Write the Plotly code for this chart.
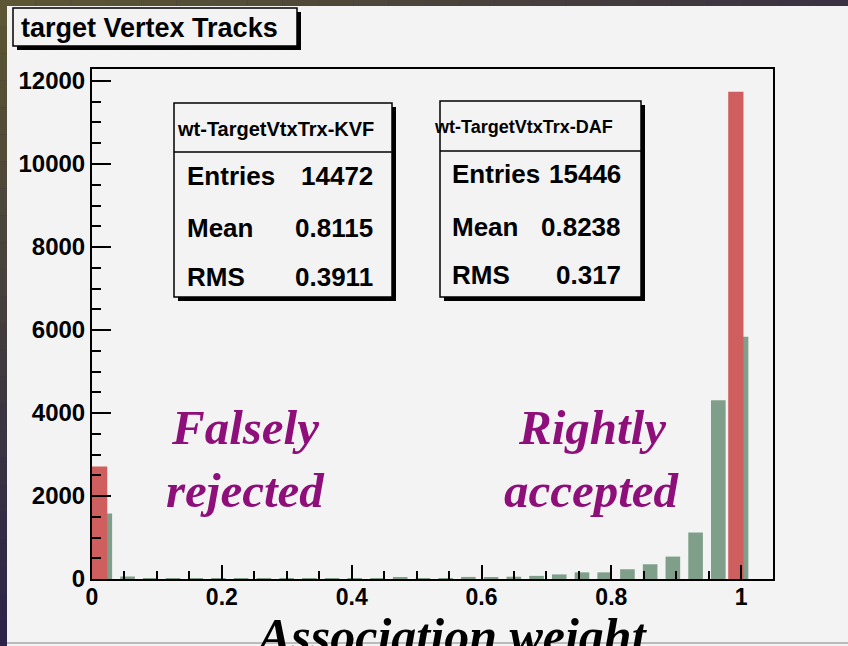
import plotly.graph_objects as go

# ---------------- data ----------------
bin_low = [0.000, 0.035, 0.070, 0.105, 0.140, 0.175, 0.210, 0.245, 0.280, 0.315,
           0.350, 0.385, 0.420, 0.455, 0.490, 0.525, 0.560, 0.595, 0.630, 0.665,
           0.700, 0.735, 0.770, 0.805, 0.840, 0.875, 0.910, 0.945, 0.980, 1.015]
kvf_counts = [2710, 0, 0, 0, 0, 0, 0, 0, 0, 0,
              0, 0, 0, 0, 0, 0, 0, 0, 0, 0,
              0, 0, 0, 0, 0, 0, 0, 0, 11740, 0]
daf_counts = [1580, 60, 15, 12, 12, 12, 12, 12, 12, 15,
              15, 15, 18, 40, 18, 20, 50, 40, 55, 75,
              110, 160, 160, 235, 355, 540, 1120, 4310, 5840, 0]
x_ticks = [0, 0.2, 0.4, 0.6, 0.8, 1]
x_tick_text = ["0", "0.2", "0.4", "0.6", "0.8", "1"]
y_ticks = [0, 2000, 4000, 6000, 8000, 10000, 12000]
y_tick_text = ["0", "2000", "4000", "6000", "8000", "10000", "12000"]

title_text = "target Vertex Tracks"
kvf_name = "wt-TargetVtxTrx-KVF"
daf_name = "wt-TargetVtxTrx-DAF"
kvf_stats = [("Entries", "14472"), ("Mean", "0.8115"), ("RMS", "0.3911")]
daf_stats = [("Entries", "15446"), ("Mean", "0.8238"), ("RMS", "0.317")]
x_title = "Association weight"

# ---------------- layout geometry (pixels) ----------------
W_FIG, H_FIG = 848, 646
L, R, T, B = 92, 773, 69, 579
PW, PH = R - L, B - T


def px(xp):
    return (xp - L) / PW


def py(yp):
    return (B - yp) / PH


RED = "#cf5f5f"
GREEN = "#7f9f8b"
CANVAS = "#f3f3f3"
PURPLE = "#8e0f7a"
SANS = "Liberation Sans, Arial, sans-serif"
SERIF = "Liberation Serif, Times New Roman, serif"

fig = go.Figure()
fig.add_bar(x=bin_low, y=daf_counts, offset=0.0085, width=0.0225,
            marker=dict(color=GREEN, line=dict(width=0)), opacity=1, name=daf_name)
fig.add_bar(x=bin_low, y=kvf_counts, offset=0.0, width=0.0235,
            marker=dict(color=RED, line=dict(width=0)), opacity=1, name=kvf_name)

shapes = []
annotations = []


def lerp(c1, c2, t):
    return "rgb(%d,%d,%d)" % tuple(int(a + (b - a) * t) for a, b in zip(c1, c2))


olive = (92, 86, 52)
purple_dark = (44, 36, 72)
top_right = (58, 50, 66)
n = 24
for i in range(n):
    y0 = i * H_FIG / n
    y1 = (i + 1) * H_FIG / n
    shapes.append(dict(type="rect", xref="paper", yref="paper", layer="below",
                       x0=px(0), x1=px(8), y0=py(y0), y1=py(y1),
                       fillcolor=lerp(olive, purple_dark, i / (n - 1)), line=dict(width=0)))
for i in range(n):
    x0 = i * W_FIG / n
    x1 = (i + 1) * W_FIG / n
    shapes.append(dict(type="rect", xref="paper", yref="paper", layer="below",
                       x0=px(x0), x1=px(x1), y0=py(0), y1=py(7),
                       fillcolor=lerp(olive, top_right, i / (n - 1)), line=dict(width=0)))
# light canvas
shapes.append(dict(type="rect", xref="paper", yref="paper", layer="below",
                   x0=px(7), x1=px(W_FIG + 2), y0=py(6), y1=py(H_FIG + 2),
                   fillcolor=CANVAS, line=dict(width=0)))
shapes.append(dict(type="line", xref="paper", yref="paper", layer="above",
                   x0=px(7), x1=px(W_FIG), y0=py(643), y1=py(643),
                   line=dict(color="#a8a8a8", width=1.5)))


def box(x0, y0, x1, y1, shadow=4):
    shapes.append(dict(type="rect", xref="paper", yref="paper", layer="above",
                       x0=px(x0 + shadow), x1=px(x1 + shadow), y0=py(y0 + shadow), y1=py(y1 + shadow),
                       fillcolor="black", line=dict(width=0)))
    shapes.append(dict(type="rect", xref="paper", yref="paper", layer="above",
                       x0=px(x0), x1=px(x1), y0=py(y0), y1=py(y1),
                       fillcolor=CANVAS, line=dict(color="black", width=1.5)))


box(13, 8, 297, 46)
annotations.append(dict(text=title_text, xref="paper", yref="paper", x=px(149), y=py(28),
                        xanchor="center", yanchor="middle", showarrow=False,
                        font=dict(family=SANS, size=27, color="black", weight="bold")))


def stats_box(x0, x1, y0, ysep, y1, name, name_cx, name_size, rows, lab_x, val_x, row_y):
    box(x0, y0, x1, y1, shadow=4)
    shapes.append(dict(type="line", xref="paper", yref="paper", layer="above",
                       x0=px(x0), x1=px(x1), y0=py(ysep), y1=py(ysep),
                       line=dict(color="black", width=1.5)))
    annotations.append(dict(text=name, xref="paper", yref="paper", x=px(name_cx),
                            y=py((y0 + ysep) / 2 + 1), xanchor="center", yanchor="middle",
                            showarrow=False,
                            font=dict(family=SANS, size=name_size, color="black", weight="bold")))
    for (lab, val), yy in zip(rows, row_y):
        annotations.append(dict(text=lab, xref="paper", yref="paper", x=px(lab_x), y=py(yy),
                                xanchor="left", yanchor="middle", showarrow=False,
                                font=dict(family=SANS, size=26, color="black", weight="bold")))
        annotations.append(dict(text=val, xref="paper", yref="paper", x=px(val_x), y=py(yy),
                                xanchor="right", yanchor="middle", showarrow=False,
                                font=dict(family=SANS, size=26, color="black", weight="bold")))


stats_box(174, 392, 103, 152, 297, kvf_name, 275, 20, kvf_stats, 185, 375, [176, 228, 277])
stats_box(440, 641, 101, 151, 297, daf_name, 523, 18, daf_stats, 450, 623, [174, 227, 275])

for txt, cx, cy in [("Falsely", 245, 427), ("rejected", 245, 490),
                    ("Rightly", 592, 427), ("accepted", 592, 490)]:
    annotations.append(dict(text=txt, xref="paper", yref="paper", x=px(cx), y=py(cy),
                            xanchor="center", yanchor="middle", showarrow=False,
                            font=dict(family=SERIF, size=49, color=PURPLE, weight="bold",
                                      style="italic")))

annotations.append(dict(text=x_title, xref="paper", yref="paper", x=px(451), y=py(636),
                        xanchor="center", yanchor="middle", showarrow=False,
                        font=dict(family=SERIF, size=50, color="black", weight="bold",
                                  style="italic")))

fig.update_layout(
    width=W_FIG, height=H_FIG,
    margin=dict(l=L, r=W_FIG - R, t=T, b=H_FIG - B, pad=0),
    paper_bgcolor="#3c3444", plot_bgcolor=CANVAS,
    barmode="overlay", showlegend=False,
    shapes=shapes, annotations=annotations,
    xaxis=dict(range=[0, 1.049], tickvals=x_ticks, ticktext=x_tick_text,
               ticks="inside", ticklen=14, tickwidth=2, tickcolor="black",
               showline=True, linecolor="black", linewidth=2, mirror=True,
               showgrid=False, zeroline=False, ticklabelstandoff=-4,
               minor=dict(dtick=0.05, ticks="inside", ticklen=8, tickwidth=2,
                          tickcolor="black", showgrid=False),
               tickfont=dict(family=SANS, size=23, color="black", weight="bold")),
    yaxis=dict(range=[0, 12289], tickvals=y_ticks, ticktext=y_tick_text,
               ticks="inside", ticklen=19, tickwidth=2, tickcolor="black",
               showline=True, linecolor="black", linewidth=2, mirror=True,
               showgrid=False, zeroline=False,
               minor=dict(dtick=500, ticks="inside", ticklen=9, tickwidth=2,
                          tickcolor="black", showgrid=False),
               tickfont=dict(family=SANS, size=24, color="black", weight="bold")),
)

fig.write_html(
    "out.html",
    config={"displayModeBar": False},
    post_script="document.body.style.margin='0px';document.body.style.padding='0px';"
                "document.body.style.background='#3c3444';document.body.style.overflow='hidden';",
)
